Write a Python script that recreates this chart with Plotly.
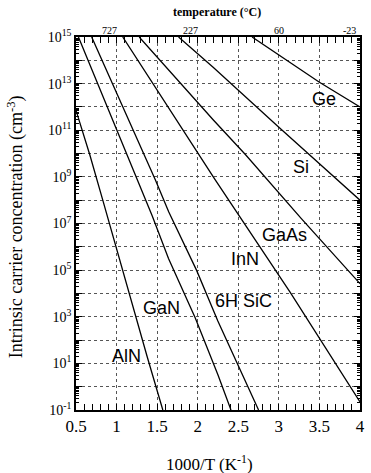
import numpy as np
import plotly.graph_objects as go

# ---- data: x = 1000/T (K^-1), y = log10(n_i / cm^-3) ----
inv_T_Ge = [2.67, 3.5, 4.0]
log_n_Ge = [15.0, 13.06, 12.0]

inv_T_Si = [1.764, 2.19, 3.0, 4.0]
log_n_Si = [15.0, 13.7, 11.13, 8.0]

inv_T_GaAs = [1.279, 2.19, 2.59, 3.28, 4.0]
log_n_GaAs = [15.0, 11.45, 9.95, 7.2, 4.42]

inv_T_InN = [1.076, 2.21, 3.14, 4.0]
log_n_InN = [15.0, 8.9, 4.05, -0.65]

inv_T_SiC = [0.693, 1.48, 1.642, 1.985, 2.248, 2.47, 2.75]
log_n_SiC = [15.0, 8.86, 7.5, 5.0, 2.82, 1.1, -1.0]

inv_T_GaN = [0.53, 1.26, 1.44, 1.64, 1.97, 2.25, 2.41]
log_n_GaN = [15.0, 8.84, 7.32, 5.5, 2.95, 0.5, -1.0]

inv_T_AlN = [0.5, 0.67, 0.83, 1.0, 1.16, 1.38, 1.57]
log_n_AlN = [11.85, 9.95, 8.0, 5.9, 4.0, 1.25, -1.0]

materials = ["Ge", "Si", "GaAs", "InN", "6H SiC", "GaN", "AlN"]
label_inv_T = [3.56, 3.27, 3.07, 2.58, 2.56, 1.55, 1.12]
label_log_n = [12.36, 9.44, 6.52, 5.49, 3.69, 3.39, 1.33]

temp_tick_pos = [1.0, 2.0, 3.0, 4.0]
temp_tick_text = ["727", "227", "60", "-23"]

labeled_decades = list(range(-1, 16, 2))
unlabeled_decades = list(range(0, 15, 2))
all_decades = list(range(-1, 16))

series = [
    ("Ge", inv_T_Ge, log_n_Ge),
    ("Si", inv_T_Si, log_n_Si),
    ("GaAs", inv_T_GaAs, log_n_GaAs),
    ("InN", inv_T_InN, log_n_InN),
    ("6H SiC", inv_T_SiC, log_n_SiC),
    ("GaN", inv_T_GaN, log_n_GaN),
    ("AlN", inv_T_AlN, log_n_AlN),
]

SERIF = "Liberation Serif"
SANS = "Liberation Sans"

fig = go.Figure()
for i, (name, xs, ls) in enumerate(series):
    fig.add_trace(go.Scatter(
        x=xs, y=10 ** np.array(ls, dtype=float), mode="lines", name=name,
        line=dict(color="black", width=1.3), showlegend=False,
        yaxis="y2" if i == 0 else "y",
    ))

annotations = []
for name, lx, ly in zip(materials, label_inv_T, label_log_n):
    annotations.append(dict(
        x=lx, y=ly, xref="x", yref="y", text=name, showarrow=False,
        font=dict(family=SANS, size=18, color="black"),
        xanchor="center", yanchor="middle",
    ))

temp_shift = [-7, -7, 0, -11]
for pos, txt, sh in zip(temp_tick_pos, temp_tick_text, temp_shift):
    annotations.append(dict(
        x=pos, y=1.017, xref="x", yref="paper", text=txt, showarrow=False,
        xshift=sh, font=dict(family=SERIF, size=10, color="black"),
        xanchor="center", yanchor="middle",
    ))

annotations += [
    dict(x=0.498, y=1.066, xref="paper", yref="paper",
         text="<b>temperature (°C)</b>", showarrow=False,
         font=dict(family=SERIF, size=12, color="black"),
         xanchor="center", yanchor="middle"),
    dict(x=-0.211, y=0.49, xref="paper", yref="paper",
         text="Intrinsic carrier concentration (cm<sup>-3</sup>)",
         textangle=-90, showarrow=False,
         font=dict(family=SERIF, size=18, color="black"),
         xanchor="center", yanchor="middle"),
    dict(x=0.47, y=-0.141, xref="paper", yref="paper",
         text="1000/T (K<sup>-1</sup>)", showarrow=False,
         font=dict(family=SERIF, size=17, color="black"),
         xanchor="center", yanchor="middle"),
]

grid_color = "#555555"

fig.update_layout(
    width=371, height=473,
    margin=dict(l=76, r=6, t=37, b=63),
    paper_bgcolor="white", plot_bgcolor="white",
    annotations=annotations,
    xaxis=dict(
        range=[0.5, 4.0], tick0=0.5, dtick=0.5,
        ticks="inside", ticklen=6, tickwidth=1, tickcolor="black",
        minor=dict(dtick=0.1, ticks="inside", ticklen=3, tickcolor="black", showgrid=False),
        showline=True, linecolor="black", linewidth=1.5, mirror="allticks",
        showgrid=True, gridcolor=grid_color, griddash="dot", gridwidth=1,
        zeroline=False,
        tickfont=dict(family=SERIF, size=17, color="black"),
    ),
    yaxis=dict(
        type="log", range=[-1, 15],
        tickmode="array",
        tickvals=[10.0 ** k for k in labeled_decades],
        ticktext=["10<sup>%d</sup>" % k for k in labeled_decades],
        ticks="inside", ticklen=6, tickwidth=1, tickcolor="black",
        minor=dict(tickmode="array", tickvals=[10.0 ** k for k in unlabeled_decades],
                   ticks="inside", ticklen=6, tickcolor="black",
                   showgrid=True, gridcolor=grid_color, griddash="dot", gridwidth=1),
        showline=True, linecolor="black", linewidth=1.5, mirror="allticks",
        showgrid=True, gridcolor=grid_color, griddash="dot", gridwidth=1,
        zeroline=False,
        tickfont=dict(family=SERIF, size=14, color="black"),
    ),
    yaxis2=dict(
        type="log", range=[-1, 15], overlaying="y", side="left",
        tickmode="array",
        tickvals=[m * 10.0 ** k for k in all_decades[:-1] for m in range(2, 10)],
        showticklabels=False, ticks="inside", ticklen=3, tickwidth=1, tickcolor="black",
        showline=True, linecolor="black", linewidth=1.5, mirror="allticks",
        showgrid=False, zeroline=False,
    ),
)

fig.write_html("out.html")
